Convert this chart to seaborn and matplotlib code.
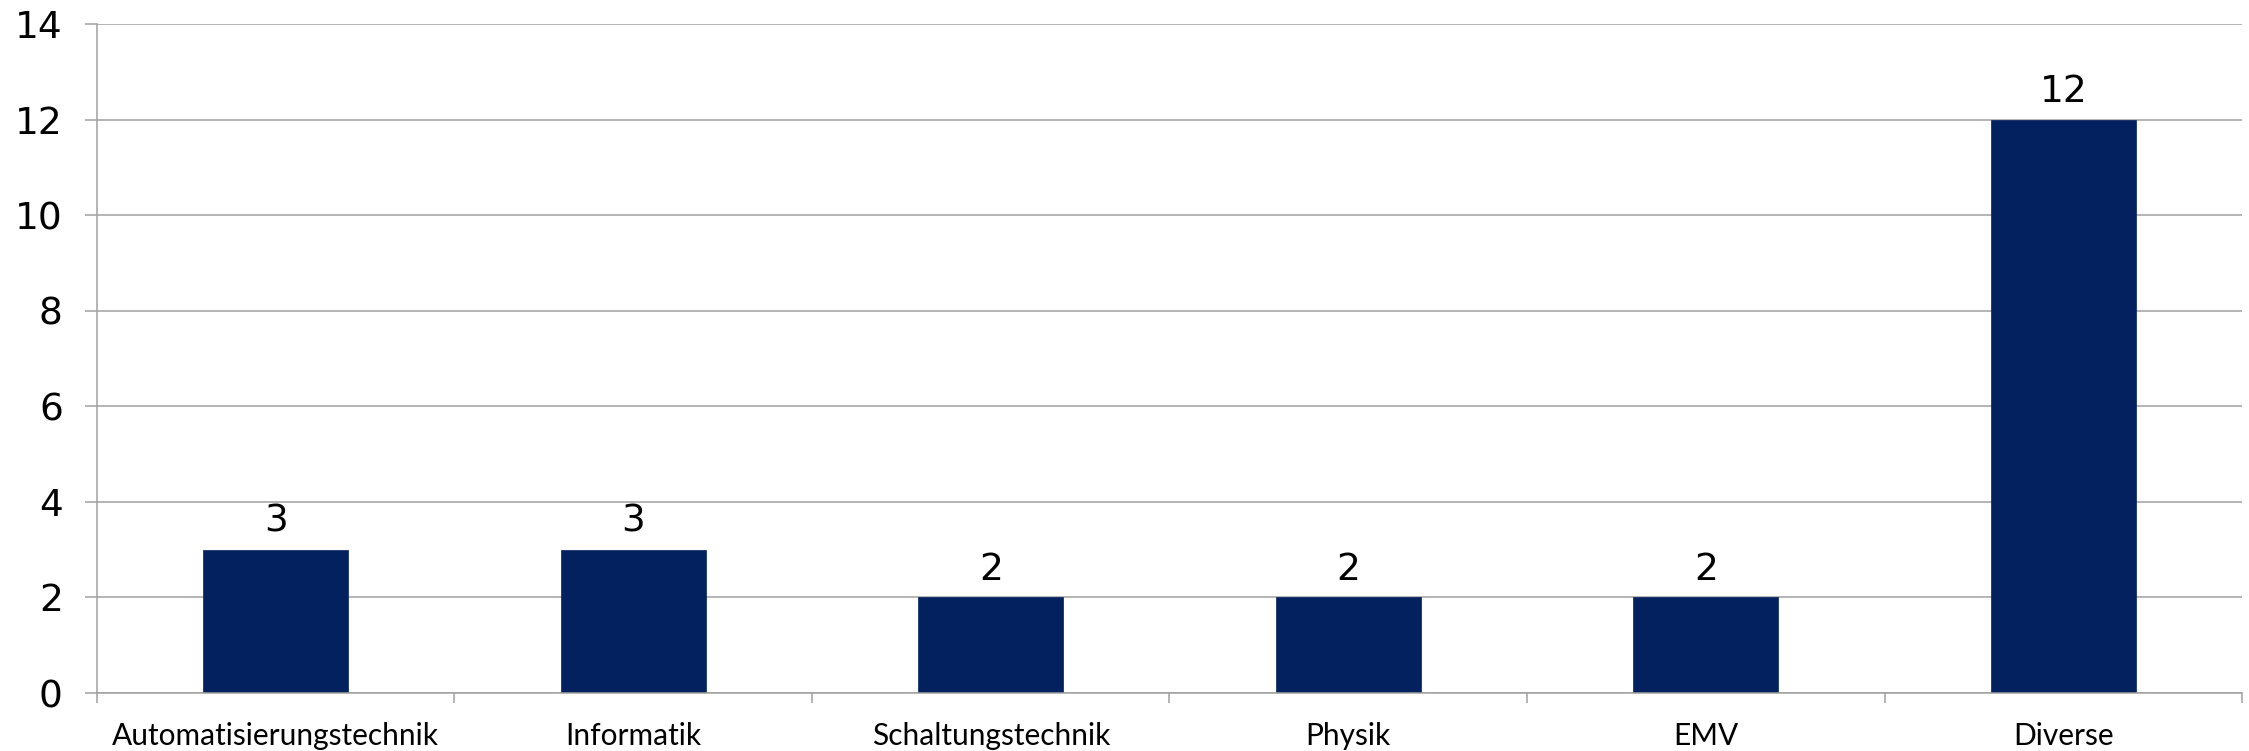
import numpy as np
import pandas as pd
import seaborn as sb
import matplotlib.pyplot as plt
from matplotlib.ticker import FixedLocator

categories = ['Automatisierungstechnik', 'Informatik', 'Schaltungstechnik', 'Physik', 'EMV', 'Diverse']
counts = [3, 3, 2, 2, 2, 12]
yticks = [0, 2, 4, 6, 8, 10, 12, 14]

df = pd.DataFrame({'Bereich': categories, 'Anzahl': counts})

sb.set_style('white')
plt.rcParams['font.family'] = ['DejaVu Sans']
plt.rcParams['text.color'] = 'black'
plt.rcParams['xtick.color'] = 'black'
plt.rcParams['ytick.color'] = 'black'

fig = plt.figure(figsize=(22.49, 7.51), dpi=100)
ax = fig.add_axes([0.0431, 0.0772, 0.9538, 0.8908])

sb.barplot(x='Bereich', y='Anzahl', data=df, color='#03205F', width=0.405,
           saturation=1, edgecolor='#03205F', linewidth=0.5, ax=ax)

ax.set_xlim(-0.5, len(categories) - 0.5)
ax.set_ylim(0, 14)
ax.set_yticks(yticks)
ax.yaxis.grid(True, color='#A0A0A0', linewidth=1.1)
ax.set_axisbelow(True)
for s in ['top', 'right']:
    ax.spines[s].set_visible(False)
ax.spines['left'].set_color('#A0A0A0')
ax.spines['left'].set_linewidth(1.1)
ax.spines['bottom'].set_color('#A0A0A0')
ax.spines['bottom'].set_linewidth(1.1)

# lengths in points (dpi 100 -> 1px = 0.72pt)
ax.tick_params(axis='y', left=True, length=8.6, width=1.1, color='#A0A0A0',
               labelcolor='black', pad=16, labelsize=27)
ax.tick_params(axis='x', which='major', bottom=False, length=0, pad=21,
               labelcolor='black', labelsize=21.5)
ax.xaxis.set_minor_locator(FixedLocator(np.arange(-0.5, len(categories), 1.0)))
ax.tick_params(axis='x', which='minor', bottom=True, length=7.2, width=1.1, color='#A0A0A0')
for lbl in ax.get_xticklabels():
    lbl.set_family(['Lato', 'DejaVu Sans'])
ax.set_xlabel('')
ax.set_ylabel('')

for c in ax.containers:
    ax.bar_label(c, labels=[str(v) for v in counts], padding=7, fontsize=27, color='black')

fig.savefig('out.png', dpi=100)
